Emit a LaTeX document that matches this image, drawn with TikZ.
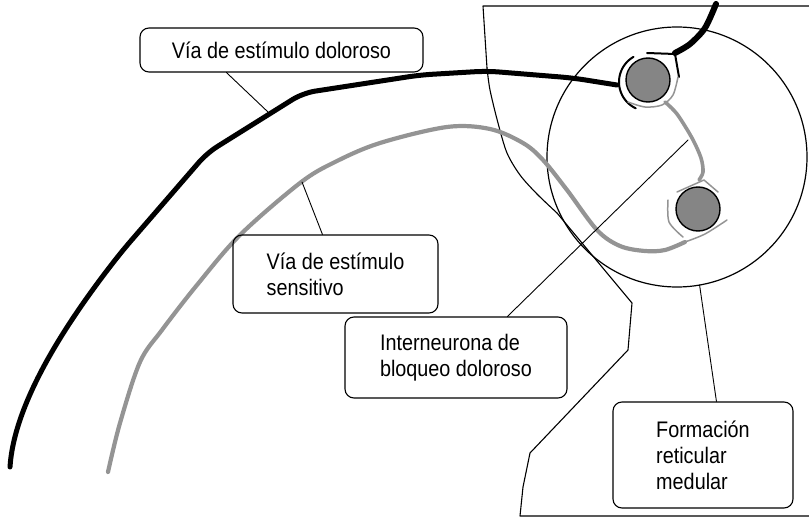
\documentclass[tikz,border=0pt]{standalone}
\usepackage{fontspec}
\setmainfont{Liberation Sans}[FakeStretch=0.88]
\definecolor{fibergray}{gray}{0.58}
\definecolor{somagray}{gray}{0.52}
\begin{document}
\begin{tikzpicture}[x=1pt,y=-1pt, line join=round, line cap=round,
  labelbox/.style={draw, line width=1.1pt, rounded corners=9pt, inner ysep=0pt,
    align=left, font=\fontsize{22.5}{26}\selectfont},
  pointer/.style={line width=0.9pt},
  outline/.style={line width=1.1pt},
  pain/.style={line width=5pt},
  paintip/.style={line width=2pt},
  sense/.style={line width=4.2pt, color=fibergray},
  sensethin/.style={line width=1.5pt, color=fibergray},
  soma/.style={circle, fill=somagray, draw, line width=1.4pt, minimum size=44pt, inner sep=0pt}]

\useasboundingbox (0,0) rectangle (809,527);

% spinal cord section outline
\draw[outline] (809,6) -- (483,6) -- (487,68);
\draw[outline] plot[smooth, tension=0.5] coordinates
  {(487,68) (490,90) (498,123) (507,153) (520,175) (537,194) (557,213)};
\draw[outline] (557,213) -- (632,303) -- (628,350) -- (530,453) -- (523,487) -- (520,516) -- (809,516);

% reticular formation
\node[circle, draw, line width=1.2pt, minimum size=260pt, inner sep=0pt, outer sep=0pt] (cord) at (677,157) {};

% neurons
\node[soma] (upper) at (648,80) {};
\node[soma] (lower) at (698,209) {};

% pain pathway
\draw[pain, rounded corners=12pt] (10,467) .. controls (14,405) and (62,328) .. (123,250)
  -- (207,153) -- (303,93) -- (420,75) -- (487,71) -- (573,78) -- (617,85);
\draw[paintip] plot[domain=120:245, samples=30] ({648+29*cos(\x)},{82-29*sin(\x)});

% descending fibre with its terminal
\draw[line width=6pt] plot[smooth] coordinates {(716,4) (705,28) (690,44) (675,53)};
\draw[paintip] (647,53) -- (675,54) -- (679,77);

% sensory pathway
\draw[sense] plot[smooth, tension=0.55] coordinates
  {(108,472) (120,423) (140,362) (162,330) (197,285) (240,235) (300,183) (335,162)
   (380,143) (447,127) (490,129) (523,143) (543,160) (567,190) (597,230) (620,246)
   (645,251) (665,250) (685,242)};
\draw[sensethin] plot[smooth] coordinates {(685,242) (705,234) (727,220)};

% interneuron membrane and axon
\draw[sensethin] plot[smooth] coordinates {(628,102) (645,107) (662,105) (673,95) (678,77)};
\draw[sense, line width=3.6pt] plot[smooth] coordinates
  {(665,102) (677,114) (692,138) (701,158) (703,172) (699,180)};
\draw[sensethin] (677,192) -- (704,180) -- (718,192);
\draw[sensethin] plot[smooth] coordinates {(668,200) (669,222) (683,237)};

% labels
\node[labelbox, minimum width=283pt, minimum height=44pt] (boxA) at (281.5,50)
  {Vía de estímulo doloroso};
\node[labelbox, minimum width=205pt, minimum height=78pt]
  (boxB) at (335.5,274) {Vía de estímulo\\sensitivo};
\node[labelbox, minimum width=222pt, minimum height=81pt]
  (boxC) at (456,357.5) {Interneurona de\\bloqueo doloroso};
\node[labelbox, minimum width=180pt, minimum height=106pt]
  (boxD) at (703,455) {Formación\\reticular\\medular};

% pointers
\coordinate (pA) at (268,112);
\coordinate (pB) at (302,182);
\coordinate (pC) at (688,140);
\draw[pointer] ([xshift=87pt]boxA.south west) -- (pA);
\draw[pointer] ([xshift=90pt]boxB.north west) -- (pB);
\draw[pointer] ([xshift=163pt]boxC.north west) -- (pC);
\draw[pointer] ([xshift=104pt]boxD.north west) -- (cord.280);
\end{tikzpicture}
\end{document}
